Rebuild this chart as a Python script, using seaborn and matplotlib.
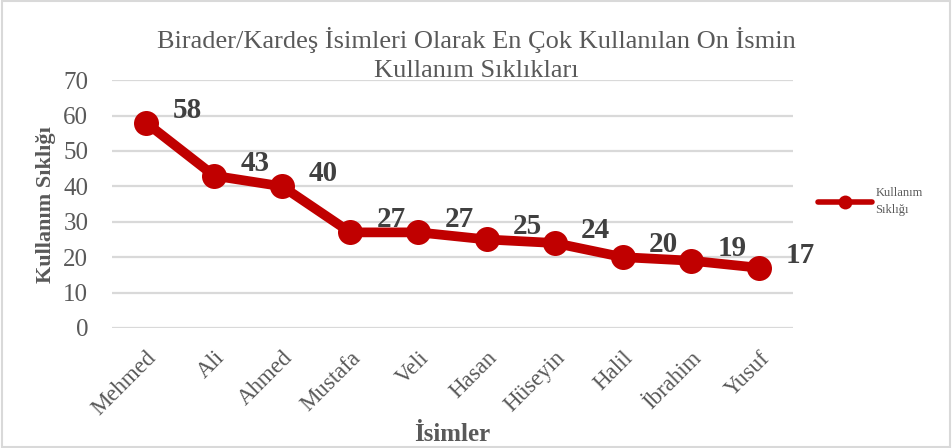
import pandas as pd
import seaborn as sns
import matplotlib
matplotlib.use("Agg")
import matplotlib.pyplot as plt
from matplotlib.patches import Rectangle

# Data
names = ["Mehmed", "Ali", "Ahmed", "Mustafa", "Veli", "Hasan",
         "Hüseyin", "Halil", "İbrahim", "Yusuf"]
counts = [58, 43, 40, 27, 27, 25, 24, 20, 19, 17]
series_name = "Kullanım Sıklığı"

df = pd.DataFrame({"İsimler": names, "Kullanım Sıklığı": counts,
                   "seri": series_name})

sns.set_style("white")
plt.rcParams["font.family"] = ["Liberation Serif", "DejaVu Serif"]

red = "#C00000"
gray = "#595959"

fig = plt.figure(figsize=(9.52, 4.48), dpi=100)
ax = fig.add_axes([0.1176, 0.268, 0.7154, 0.553])

sns.lineplot(data=df, x="İsimler", y="Kullanım Sıklığı", hue="seri",
             palette=[red], marker="o", markersize=18, linewidth=7,
             markeredgewidth=0, ax=ax, sort=False)

ax.set_ylim(0, 70)
ax.set_xlim(-0.5, len(names) - 0.5)
ax.set_yticks(range(0, 71, 10))
ax.yaxis.grid(True, color="#D9D9D9", linewidth=1.6)
ax.set_axisbelow(True)
for s in ax.spines.values():
    s.set_visible(False)
ax.tick_params(axis="y", length=0, pad=17, labelsize=18, labelcolor=gray)
ax.tick_params(axis="x", length=0, pad=14, labelsize=16.5, labelcolor=gray)
plt.setp(ax.get_xticklabels(), rotation=45, ha="right",
         rotation_mode="anchor")

# data labels
for i, v in enumerate(counts):
    ax.annotate(str(v), (i, v), xytext=(19, 9), textcoords="offset points",
                ha="left", va="center", fontsize=21, fontweight="bold",
                color="#404040")

ax.set_xlabel("İsimler", fontsize=18, fontweight="bold", color=gray,
              labelpad=2)
ax.set_ylabel("Kullanım Sıklığı", fontsize=16, fontweight="bold",
              color=gray, labelpad=5)

fig.suptitle("Birader/Kardeş İsimleri Olarak En Çok Kullanılan On İsmin\n"
             "Kullanım Sıklıkları", x=0.5, y=0.94, fontsize=19,
             color=gray, linespacing=1.4)

leg = ax.legend(title=None, loc="center left", bbox_to_anchor=(1.02, 0.51),
                frameon=False, fontsize=9, handlelength=4.3,
                handletextpad=0.3, labelcolor=gray)
leg.get_texts()[0].set_text("Kullanım\nSıklığı")
leg.get_texts()[0].set_linespacing(1.5)
for h in leg.legend_handles:
    h.set_markersize(10)
    h.set_linewidth(4)

fig.patches.append(Rectangle((0.002, 0.003), 0.996, 0.994,
                             transform=fig.transFigure, fill=False,
                             edgecolor="#D9D9D9", linewidth=1.5))

fig.savefig("out.png", dpi=100)
